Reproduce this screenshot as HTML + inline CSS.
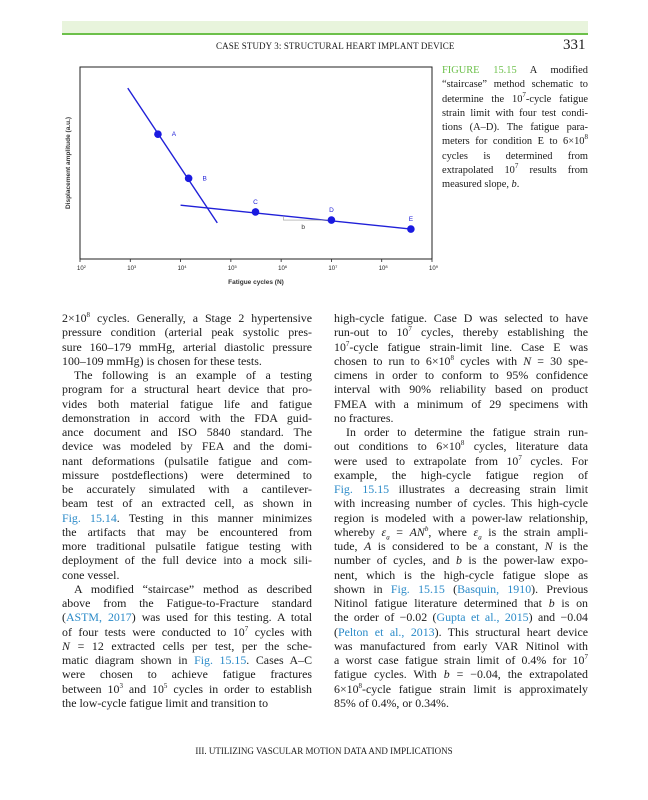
<!DOCTYPE html>
<html><head><meta charset="utf-8">
<style>
body{margin:0;background:#fff;}
#page{position:relative;width:648px;height:800px;overflow:hidden;font-family:"Liberation Serif",serif;color:#1a1a1a;}
.band{position:absolute;left:62px;top:21px;width:526px;height:12px;background:#e8f4dc;border-bottom:2px solid #6cc04a;}
.hdr{position:absolute;top:41px;left:216px;font-size:9px;letter-spacing:0.1px;}
.pg{position:absolute;top:37px;left:563px;font-size:15px;}
.cap{position:absolute;left:442px;top:64px;width:146px;font-size:10.4px;line-height:14.3px;}
.cap div{text-align:justify;text-align-last:justify;white-space:nowrap;}
.cap div.l{text-align-last:left;}
.col{position:absolute;top:311px;font-size:11.9px;line-height:14.25px;}
.col div{text-align:justify;text-align-last:justify;white-space:nowrap;height:14.25px;}
.col div.l{text-align-last:left;}
.col div.i{text-indent:12px;}
a{color:#2a8ac8;text-decoration:none;}
sup{font-size:7px;line-height:0;vertical-align:5px;}
.ftr{position:absolute;top:746px;left:0;width:648px;text-align:center;font-size:9px;}
</style></head><body>
<div id="page">
<div class="band"></div>
<div class="hdr">CASE STUDY 3: STRUCTURAL HEART IMPLANT DEVICE</div>
<div class="pg">331</div>

<svg id="chart" width="648" height="300" style="position:absolute;left:0;top:0" xmlns="http://www.w3.org/2000/svg"></svg>

<div class="cap">
<div><span style="color:#6cc04a">FIGURE 15.15</span> A modified</div>
<div>“staircase” method schematic to</div>
<div>determine the 10<sup>7</sup>-cycle fatigue</div>
<div>strain limit with four test condi-</div>
<div>tions (A–D). The fatigue para-</div>
<div>meters for condition E to 6×10<sup>8</sup></div>
<div>cycles is determined from</div>
<div>extrapolated 10<sup>7</sup> results from</div>
<div class="l">measured slope, <i>b</i>.</div>
</div>

<div class="col" style="left:62px;width:250px">
<div>2×10<sup>8</sup> cycles. Generally, a Stage 2 hypertensive</div>
<div>pressure condition (arterial peak systolic pres-</div>
<div>sure 160–179 mmHg, arterial diastolic pressure</div>
<div class="l">100–109 mmHg) is chosen for these tests.</div>
<div class="i">The following is an example of a testing</div>
<div>program for a structural heart device that pro-</div>
<div>vides both material fatigue life and fatigue</div>
<div>demonstration in accord with the FDA guid-</div>
<div>ance document and ISO 5840 standard. The</div>
<div>device was modeled by FEA and the domi-</div>
<div>nant deformations (pulsatile fatigue and com-</div>
<div>missure postdeflections) were determined to</div>
<div>be accurately simulated with a cantilever-</div>
<div>beam test of an extracted cell, as shown in</div>
<div><a>Fig. 15.14</a>. Testing in this manner minimizes</div>
<div>the artifacts that may be encountered from</div>
<div>more traditional pulsatile fatigue testing with</div>
<div>deployment of the full device into a mock sili-</div>
<div class="l">cone vessel.</div>
<div class="i">A modified “staircase” method as described</div>
<div>above from the Fatigue-to-Fracture standard</div>
<div>(<a>ASTM, 2017</a>) was used for this testing. A total</div>
<div>of four tests were conducted to 10<sup>7</sup> cycles with</div>
<div><i>N</i> = 12 extracted cells per test, per the sche-</div>
<div>matic diagram shown in <a>Fig. 15.15</a>. Cases A–C</div>
<div>were chosen to achieve fatigue fractures</div>
<div>between 10<sup>3</sup> and 10<sup>5</sup> cycles in order to establish</div>
<div class="l">the low-cycle fatigue limit and transition to</div>
</div>

<div class="col" style="left:334px;width:254px">
<div>high-cycle fatigue. Case D was selected to have</div>
<div>run-out to 10<sup>7</sup> cycles, thereby establishing the</div>
<div>10<sup>7</sup>-cycle fatigue strain-limit line. Case E was</div>
<div>chosen to run to 6×10<sup>8</sup> cycles with <i>N</i> = 30 spe-</div>
<div>cimens in order to conform to 95% confidence</div>
<div>interval with 90% reliability based on product</div>
<div>FMEA with a minimum of 29 specimens with</div>
<div class="l">no fractures.</div>
<div class="i">In order to determine the fatigue strain run-</div>
<div>out conditions to 6×10<sup>8</sup> cycles, literature data</div>
<div>were used to extrapolate from 10<sup>7</sup> cycles. For</div>
<div>example, the high-cycle fatigue region of</div>
<div><a>Fig. 15.15</a> illustrates a decreasing strain limit</div>
<div>with increasing number of cycles. This high-cycle</div>
<div>region is modeled with a power-law relationship,</div>
<div>whereby <i>ε<sub style="font-size:7px">a</sub></i> = <i>AN<sup>b</sup></i>, where <i>ε<sub style="font-size:7px">a</sub></i> is the strain ampli-</div>
<div>tude, <i>A</i> is considered to be a constant, <i>N</i> is the</div>
<div>number of cycles, and <i>b</i> is the power-law expo-</div>
<div>nent, which is the high-cycle fatigue slope as</div>
<div>shown in <a>Fig. 15.15</a> (<a>Basquin, 1910</a>). Previous</div>
<div>Nitinol fatigue literature determined that <i>b</i> is on</div>
<div>the order of −0.02 (<a>Gupta et al., 2015</a>) and −0.04</div>
<div>(<a>Pelton et al., 2013</a>). This structural heart device</div>
<div>was manufactured from early VAR Nitinol with</div>
<div>a worst case fatigue strain limit of 0.4% for 10<sup>7</sup></div>
<div>fatigue cycles. With <i>b</i> = −0.04, the extrapolated</div>
<div>6×10<sup>8</sup>-cycle fatigue strain limit is approximately</div>
<div class="l">85% of 0.4%, or 0.34%.</div>
</div>

<div class="ftr">III. UTILIZING VASCULAR MOTION DATA AND IMPLICATIONS</div>
</div>

<script>
const pointLabels = ["A","B","C","D","E"];
const pointLogN = [3.55, 4.16, 5.49, 7.0, 8.58];
const pointAmp = [65, 42, 24.5, 20.3, 15.6];
const lowLineLogN = [2.95, 4.73];
const lowLineAmp = [89, 18.8];
const highLineLogN = [4.0, 8.58];
const highLineAmp = [28, 15.6];
const tickExps = [2,3,4,5,6,7,8,9];

const svg = document.getElementById('chart');
const NS = 'http://www.w3.org/2000/svg';
const L=80, R=432, T=67, B=259;
const xs = v => L + (v-2)/(9-2)*(R-L);
const ys = v => B - v/100*(B-T);
function mk(tag, attrs){const e=document.createElementNS(NS,tag);for(const k in attrs)e.setAttribute(k,attrs[k]);svg.appendChild(e);return e;}

const frame = mk('rect',{x:L,y:T,width:R-L,height:B-T,fill:'none',stroke:'#222','stroke-width':1});



tickExps.forEach(e=>{
  const x=xs(e);
  const t=mk('line',{x1:x,y1:B,x2:x,y2:B+3,stroke:'#222','stroke-width':0.8});
  
  
  const tx=mk('text',{x:x-3,y:B+11,'font-size':6,'font-family':'Liberation Sans, sans-serif',fill:'#222'});
  
  
  tx.innerHTML='10<tspan dy="-2" font-size="4">'+e+'</tspan>';
});

const xt=mk('text',{x:(L+R)/2,y:284,'text-anchor':'middle','font-size':6.5,'font-family':'Liberation Sans, sans-serif','font-weight':'bold',fill:'#333'});


xt.textContent='Fatigue cycles (N)';
const yt=mk('text',{x:0,y:0,transform:'translate(70,163) rotate(-90)','text-anchor':'middle','font-size':6.5,'font-family':'Liberation Sans, sans-serif','font-weight':'bold',fill:'#333'});


yt.textContent='Displacement amplitude (a.u.)';

const l1=mk('line',{x1:xs(lowLineLogN[0]),y1:ys(lowLineAmp[0]),x2:xs(lowLineLogN[1]),y2:ys(lowLineAmp[1]),stroke:'#2020d8','stroke-width':1.4});


const l2=mk('line',{x1:xs(highLineLogN[0]),y1:ys(highLineAmp[0]),x2:xs(highLineLogN[1]),y2:ys(highLineAmp[1]),stroke:'#2020d8','stroke-width':1.4});



const bx0 = xs((pointLogN[2]+pointLogN[3])/2 - 0.2);
const slope = (highLineAmp[1]-highLineAmp[0])/(highLineLogN[1]-highLineLogN[0]);
const ampAt = n => highLineAmp[0] + slope*(n-highLineLogN[0]);
const br=mk('polyline',{points:`${bx0},${ys(ampAt((pointLogN[2]+pointLogN[3])/2-0.2))} ${bx0},${ys(pointAmp[3])} ${xs(pointLogN[3])},${ys(pointAmp[3])}`,fill:'none',stroke:'#999','stroke-width':0.6});


const bl=mk('text',{x:(bx0+xs(pointLogN[3]))/2-6,y:ys(pointAmp[3])+9,'font-size':6.5,'font-family':'Liberation Sans, sans-serif',fill:'#333'});


bl.textContent='b';

pointLabels.forEach((lab,i)=>{
  const cx=xs(pointLogN[i]), cy=ys(pointAmp[i]);
  const c=mk('circle',{cx:cx,cy:cy,r:3.8,fill:'#1a1ae0'});
  
  
  const above = i>=2;
  const t=mk('text',{x:above?cx:cx+16,y:above?cy-8:cy+2,'text-anchor':'middle','font-size':6.5,'font-family':'Liberation Sans, sans-serif',fill:'#2020d8'});
  
  
  t.textContent=lab;
});
</script>
</body></html>
